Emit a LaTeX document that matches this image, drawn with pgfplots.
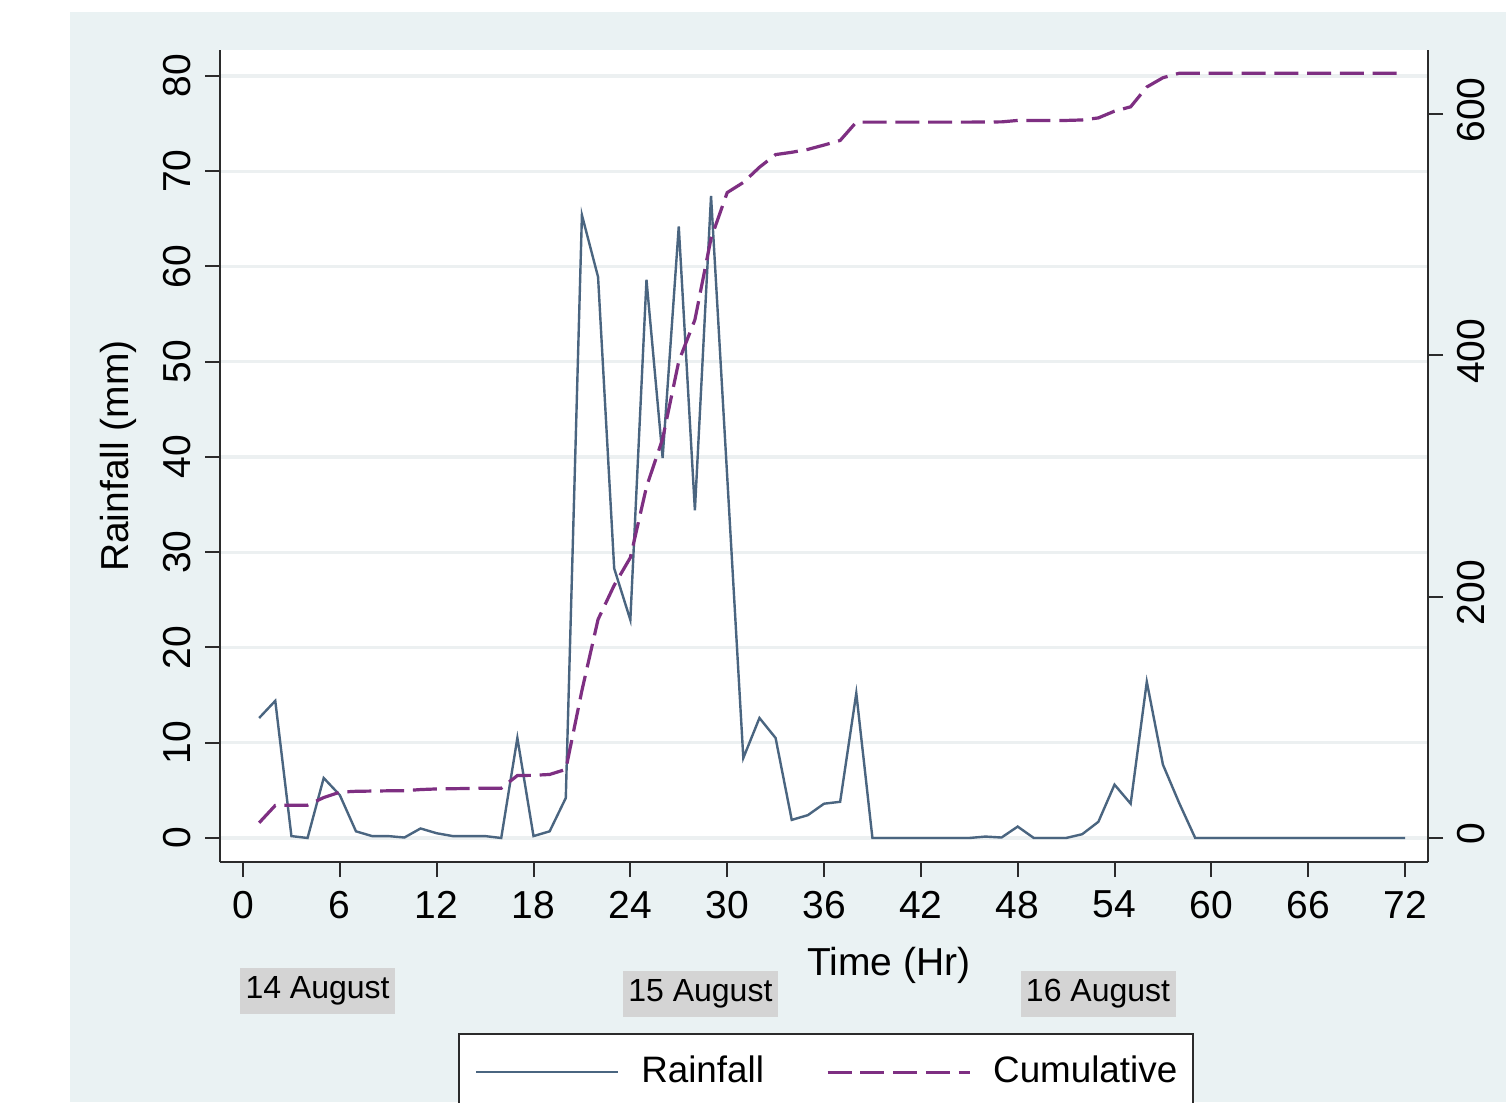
\documentclass[border=0pt]{standalone}
\usepackage{fontspec}
\setmainfont{Liberation Sans}
\usepackage{pgfplots}
\usepackage{pgfplotstable}
\pgfplotsset{compat=1.18}
\definecolor{graphbg}{RGB}{234,242,243}
\definecolor{gridc}{RGB}{236,240,241}
\definecolor{rainline}{HTML}{4A6580}
\definecolor{cumline}{HTML}{7E2F82}
\definecolor{daybox}{RGB}{212,212,212}
\definecolor{axisline}{HTML}{2B2B2B}

% hourly rainfall (mm) and running total
\pgfplotstableread{
t rain cum
1 12.6 12.6
2 14.4 27.0
3 0.2 27.2
4 0 27.2
5 6.3 33.5
6 4.5 38.0
7 0.7 38.7
8 0.2 38.9
9 0.2 39.1
10 0.05 39.15
11 1.0 40.15
12 0.5 40.65
13 0.2 40.85
14 0.2 41.05
15 0.2 41.25
16 0 41.25
17 10.5 51.75
18 0.2 51.95
19 0.7 52.65
20 4.2 56.85
21 65.4 122.25
22 58.9 181.15
23 28.3 209.45
24 22.9 232.35
25 58.6 290.95
26 39.9 330.85
27 64.2 395.05
28 34.4 429.45
29 67.4 496.85
30 38.0 534.85
31 8.4 543.25
32 12.6 555.85
33 10.5 566.35
34 1.9 568.25
35 2.4 570.65
36 3.6 574.25
37 3.8 578.05
38 15.2 593.25
39 0 593.25
40 0 593.25
41 0 593.25
42 0 593.25
43 0 593.25
44 0 593.25
45 0 593.25
46 0.15 593.4
47 0.05 593.45
48 1.2 594.65
49 0 594.65
50 0 594.65
51 0 594.65
52 0.4 595.05
53 1.7 596.75
54 5.6 602.35
55 3.6 605.95
56 16.4 622.35
57 7.7 630.05
58 3.7 633.75
59 0 633.75
60 0 633.75
61 0 633.75
62 0 633.75
63 0 633.75
64 0 633.75
65 0 633.75
66 0 633.75
67 0 633.75
68 0 633.75
69 0 633.75
70 0 633.75
71 0 633.75
72 0 633.75
}\raindata

\pgfplotsset{twin/.style={
  scale only axis, width=302pt, height=203pt,
  at={(55pt,60pt)}, anchor=south west,
  xmin=-1.425, xmax=73.425,
  axis line style={axisline, line width=0.55pt, -},
  major tick style={axisline, line width=0.5pt},
  tick align=outside, major tick length=3.75pt,
  tick label style={font=\fontsize{9.75}{11}\selectfont, black},
  /pgf/number format/assume math mode=true,
  label style={font=\fontsize{9.75}{11}\selectfont, black},
}}

\begin{document}
\begin{tikzpicture}[x=1pt,y=1pt]
\useasboundingbox (0,0) rectangle (376.5,275.5);
\fill[white] (0,0) rectangle (376.5,275.5);
\fill[graphbg] (17.5,0) rectangle (376.5,272.5);

\begin{axis}[twin,
  axis background/.style={fill=white},
  axis x line*=bottom, axis y line*=left,
  ymin=-2.52, ymax=82.73,
  xtick={0,6,...,72}, ytick={0,10,...,80},
  ymajorgrids, grid style={gridc, line width=0.8pt},
  yticklabel style={rotate=90, anchor=south},
  xlabel={Time (Hr)}, ylabel={Rainfall (mm)},
  xlabel style={at={(axis description cs:0.5538,-0.1268)}, anchor=center},
  ylabel style={at={(axis description cs:-0.0844,0.5)}, anchor=center},
]
\addplot[rainline, line width=0.6pt] table[x=t, y=rain]{\raindata};
\end{axis}

\begin{axis}[twin,
  axis y line*=right, axis x line=none,
  ymin=-19.89, ymax=653.04,
  ytick={0,200,400,600},
  yticklabel style={rotate=90, anchor=north, xshift=1pt},
  legend columns=2,
  legend cell align=left,
  legend image code/.code={\draw[#1] (0pt,0pt) -- (35.5pt,0pt);},
  legend style={
    at={(axis description cs:0.5017,-0.2106)}, anchor=north,
    draw=axisline, line width=0.6pt, fill=white,
    inner xsep=4pt, inner ysep=5pt,
    font=\fontsize{9.2}{11}\selectfont,
    nodes={inner sep=0pt, text height=7pt, text depth=2pt},
    /tikz/every odd column/.append style={column sep=5.5pt},
    /tikz/every even column/.append style={column sep=15.5pt},
  },
]
\addlegendimage{rainline, line width=0.6pt}
\addlegendentry{Rainfall}
\addplot[cumline, line width=0.8pt, dash pattern=on 6pt off 2.2pt] table[x=t, y=cum]{\raindata};
\addlegendentry{Cumulative}
\end{axis}

\tikzset{day/.style={fill=daybox, minimum width=38.75pt, minimum height=11.5pt,
  inner sep=0pt, font=\fontsize{8}{10}\selectfont}}
\node[day] at (79.4,27.75) {14 August};
\node[day] at (175.1,27) {15 August};
\node[day] at (274.5,27) {16 August};
\end{tikzpicture}
\end{document}
